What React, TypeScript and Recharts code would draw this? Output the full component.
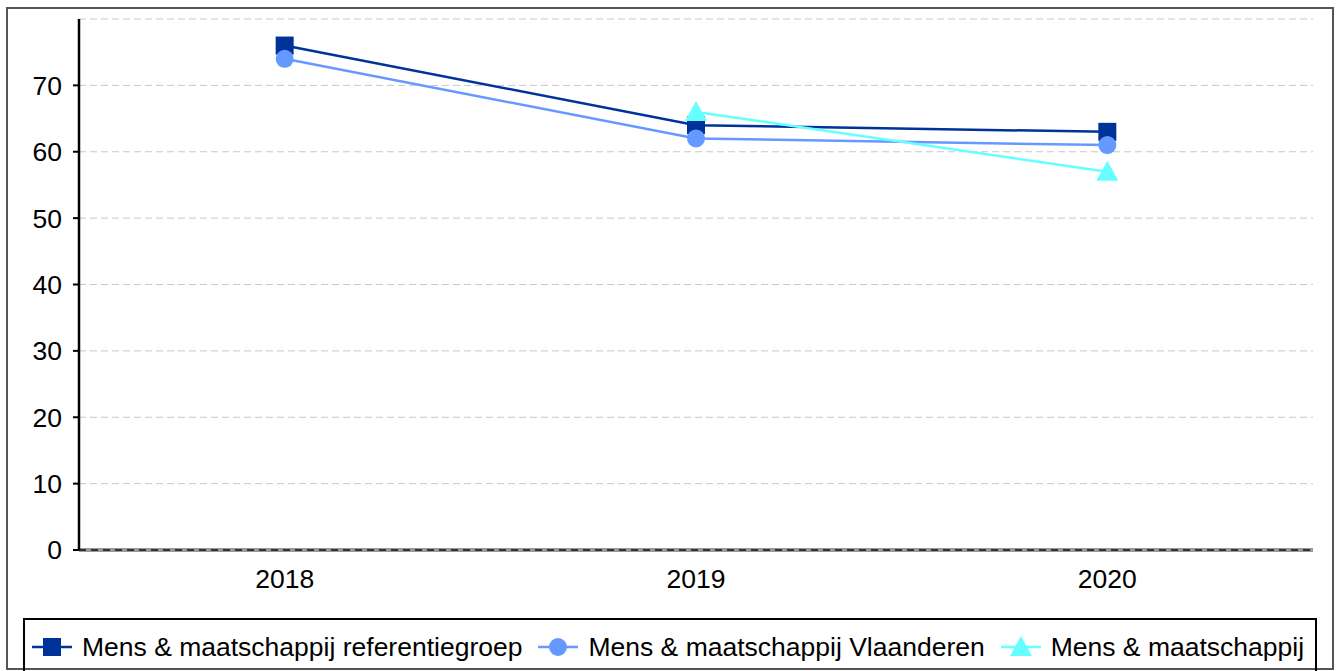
import React from "react";
import {
  LineChart,
  Line,
  XAxis,
  YAxis,
  CartesianGrid,
  ReferenceLine,
} from "recharts";

const years = ["2018", "2019", "2020"];
const referentiegroep = [76, 64, 63];
const vlaanderen = [74, 62, 61];
const school = [null, 66, 57];
const yTicks = [0, 10, 20, 30, 40, 50, 60, 70];

const series = [
  { key: "ref", name: "Mens & maatschappij referentiegroep", color: "#003399", shape: "square", values: referentiegroep },
  { key: "vla", name: "Mens & maatschappij Vlaanderen", color: "#6699FF", shape: "circle", values: vlaanderen },
  { key: "own", name: "Mens & maatschappij", color: "#66FFFF", shape: "triangle", values: school },
];

const data = years.map((year, i) => {
  const row: Record<string, any> = { year };
  series.forEach((s) => (row[s.key] = s.values[i]));
  return row;
});

const font = "'Liberation Sans', Arial, sans-serif";

const Marker = ({ shape, color, cx, cy }: { shape: string; color: string; cx: number; cy: number }) => {
  if (shape === "square") return <rect x={cx - 9} y={cy - 9} width={18} height={18} fill={color} />;
  if (shape === "circle") return <circle cx={cx} cy={cy} r={9} fill={color} />;
  return <polygon points={`${cx},${cy - 11} ${cx - 11},${cy + 9} ${cx + 11},${cy + 9}`} fill={color} />;
};

const makeDot = (shape: string, color: string) => (props: any) => {
  const { cx, cy, key, value } = props;
  if (value == null || cx == null || cy == null) return <g key={key} />;
  return (
    <g key={key}>
      <Marker shape={shape} color={color} cx={cx} cy={cy} />
    </g>
  );
};

const LegendBox = () => (
  <div
    style={{
      position: "absolute",
      left: 23,
      top: 618,
      width: 1294,
      height: 70,
      border: "2px solid #000",
      boxSizing: "border-box",
      display: "flex",
      alignItems: "flex-start",
      paddingTop: 14,
      paddingLeft: 7,
      fontFamily: font,
      fontSize: 26.5,
      color: "#000",
      whiteSpace: "nowrap",
    }}
  >
    {series.map((s) => (
      <div key={s.key} style={{ display: "flex", alignItems: "center", marginRight: 16 }}>
        <svg width={40} height={26} style={{ marginRight: 10 }}>
          <line x1={0} y1={13} x2={40} y2={13} stroke={s.color} strokeWidth={2.5} />
          <Marker shape={s.shape} color={s.color} cx={20} cy={13} />
        </svg>
        <span style={{ lineHeight: "26px" }}>{s.name}</span>
      </div>
    ))}
  </div>
);

export default function App() {
  return (
    <div style={{ position: "fixed", left: 0, top: 0, width: 1340, height: 671, overflow: "hidden", background: "#fff" }}>
      <div
        style={{
          position: "absolute",
          left: 6,
          top: 7,
          width: 1328,
          height: 663,
          border: "2px solid #555",
          boxSizing: "border-box",
        }}
      />
      <div style={{ position: "absolute", left: 0, top: 0 }}>
        <LineChart width={1340} height={671} data={data} margin={{ top: 19, right: 27, left: 0, bottom: 81 }}>
          <CartesianGrid vertical={false} stroke="#c8c8c8" strokeDasharray="7 4" />
          <ReferenceLine y={0} stroke="#999" strokeWidth={4} />
          <XAxis
            dataKey="year"
            scale="band"
            height={40}
            axisLine={{ stroke: "#333", strokeWidth: 2, strokeDasharray: "7 5" }}
            tickLine={false}
            tickSize={0}
            tickMargin={19}
            tick={{ fill: "#000", fontSize: 26.5, fontFamily: font }}
          />
          <YAxis
            width={79}
            domain={[0, 80]}
            ticks={yTicks}
            interval={0}
            axisLine={{ stroke: "#000", strokeWidth: 2.5 }}
            tickLine={{ stroke: "#000", strokeWidth: 2 }}
            tickSize={6}
            tickMargin={11}
            tick={{ fill: "#000", fontSize: 26.5, fontFamily: font }}
          />
          {series.map((s) => (
            <Line
              key={s.key}
              dataKey={s.key}
              name={s.name}
              stroke={s.color}
              strokeWidth={2.5}
              dot={makeDot(s.shape, s.color)}
              activeDot={false}
              isAnimationActive={false}
            />
          ))}
        </LineChart>
      </div>
      <LegendBox />
    </div>
  );
}
